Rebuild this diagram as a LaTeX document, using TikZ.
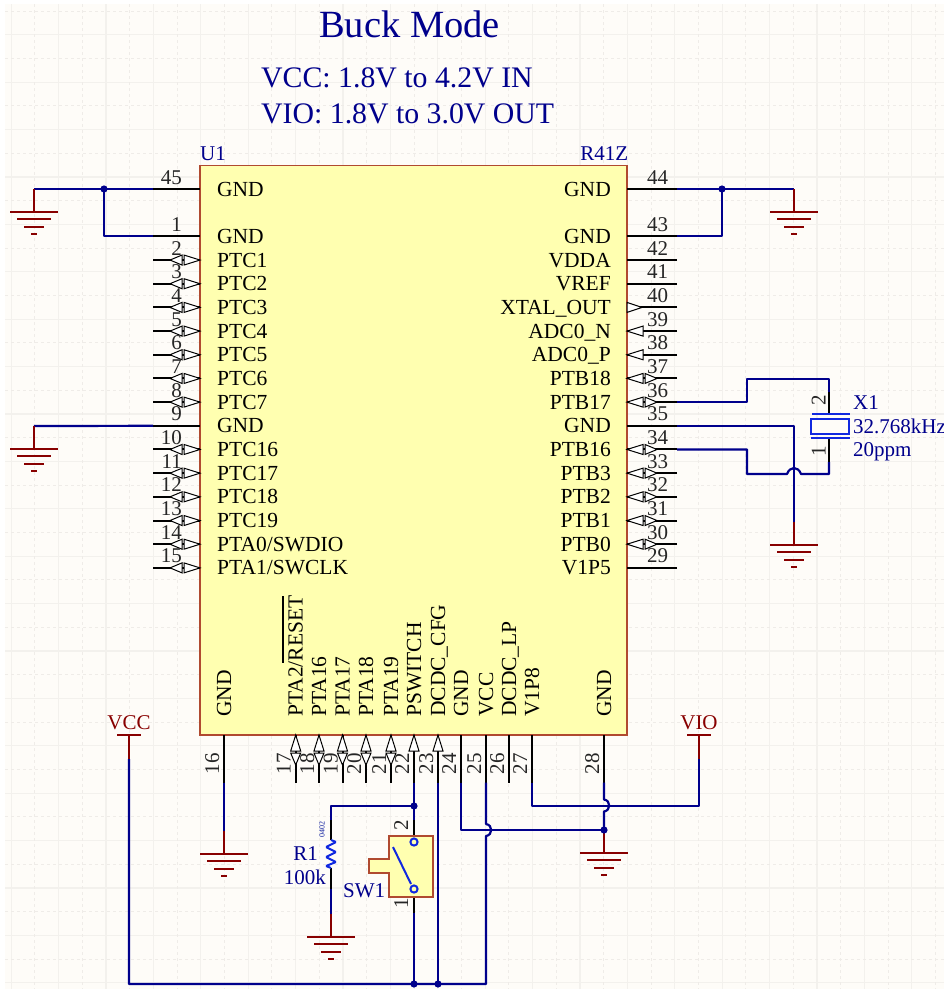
\documentclass[tikz,border=0pt]{standalone}
\usepackage{fontspec}
\setmainfont{Liberation Serif}
\definecolor{sheet}{HTML}{FEFCF8}
\definecolor{gridmajor}{HTML}{F3F1ED}
\definecolor{gridminor}{HTML}{EFECE8}
\definecolor{wireblue}{HTML}{00008C}
\definecolor{partblue}{HTML}{1028E0}
\definecolor{netred}{HTML}{880000}
\definecolor{bodyfill}{HTML}{FFFFB0}
\definecolor{bodyline}{HTML}{B04A30}
\tikzset{
    x=1pt, y=-1pt,
    wire/.style={draw=wireblue, line width=2.2pt, line join=round},
    pinline/.style={draw=black, line width=2pt},
    marker/.style={draw=black, fill=white, line width=1pt},
    partline/.style={draw=partblue, line width=2pt},
    powerline/.style={draw=netred, line width=2.2pt},
    bodybox/.style={draw=bodyline, fill=bodyfill, line width=1.2pt},
    pinname/.style={inner sep=0pt, font=\fontsize{21.5}{24}\selectfont, text=black},
    pinnum/.style={inner sep=0pt, font=\fontsize{21}{24}\selectfont, text=black!85},
    partname/.style={inner sep=0pt, font=\fontsize{21}{24}\selectfont, text=wireblue},
    netname/.style={inner sep=0pt, font=\fontsize{21}{24}\selectfont, text=netred},
    pics/nomark/.style={code={}},
    pics/inmark/.style={code={\draw[marker] (0,0) -- (-16,-5) -- (-16,5) -- cycle;}},
    pics/outmark/.style={code={\draw[marker] (-15,0) -- (0,-5) -- (0,5) -- cycle;}},
    pics/iomark/.style={code={
        \draw[marker] (0,0) -- (-16,-5) -- (-16,5) -- cycle;
        \draw[marker] (-18,-5) -- (-18,5) -- (-30,0) -- cycle;}},
    pics/gnd/.style={code={
        \draw[powerline] (0,0) -- (0,23);
        \draw[powerline] (-24,23) -- (24,23);
        \draw[powerline] (-17,30) -- (17,30);
        \draw[powerline] (-10,38) -- (10,38);
        \draw[powerline] (-3,45) -- (3,45);}},
    pics/powerport/.style={code={
        \draw[powerline] (0,0) -- (0,-24);
        \draw[powerline] (-12,-24) -- (12,-24);}}
}
\begin{document}
\begin{tikzpicture}
    \useasboundingbox (0,0) rectangle (944,989);

    % Sheet and grid
    \fill[sheet] (5,4) rectangle (944,989);
    \foreach \x in {11.1,58.5,...,940} \draw[gridmajor, line width=1.2pt] (\x,4) -- (\x,989);
    \foreach \y in {34.7,82.1,...,985} \draw[gridmajor, line width=1.2pt] (5,\y) -- (944,\y);
    \foreach \x in {34.8,82.2,...,940} \draw[gridminor, dashed, line width=0.8pt] (\x,4) -- (\x,989);
    \foreach \y in {11,58.4,...,985} \draw[gridminor, dashed, line width=0.8pt] (5,\y) -- (944,\y);

    % Titles
    \node[inner sep=0pt, anchor=base west, font=\fontsize{38.5}{42}\selectfont, text=wireblue] (title) at (319,37) {Buck Mode};
    \node[inner sep=0pt, anchor=base west, font=\fontsize{29.8}{34}\selectfont, text=wireblue] (vccline) at (261,87.5) {VCC: 1.8V to 4.2V IN};
    \node[inner sep=0pt, anchor=base west, font=\fontsize{29.8}{34}\selectfont, text=wireblue] (violine) at (261,123) {VIO: 1.8V to 3.0V OUT};

    % Chip body
    \node[partname, anchor=base west] (u1) at (200,160) {U1};
    \node[partname, anchor=base east] (r41z) at (628.5,160) {R41Z};
    \path[bodybox] (200,165.5) rectangle (627,735);

    % Left pins
    \foreach \num/\name/\row/\kind in {45/GND/0/nomark, 1/GND/2/nomark, 2/PTC1/3/iomark, 3/PTC2/4/iomark,
        4/PTC3/5/iomark, 5/PTC4/6/iomark, 6/PTC5/7/iomark, 7/PTC6/8/iomark, 8/PTC7/9/iomark, 9/GND/10/nomark,
        10/PTC16/11/iomark, 11/PTC17/12/iomark, 12/PTC18/13/iomark, 13/PTC19/14/iomark,
        14/{PTA0/SWDIO}/15/iomark, 15/{PTA1/SWCLK}/16/iomark} {
        \pgfmathsetmacro{\ypos}{189+23.68*\row}
        \coordinate (p\num) at (153,\ypos);
        \draw[pinline] (p\num) -- (200,\ypos);
        \pic at (200,\ypos) {\kind};
        \node[pinnum, anchor=base east] (n\num) at (182,\ypos-5) {\num};
        \node[pinname, anchor=base west] (t\num) at (217,\ypos+7) {\name};
    }

    % Right pins
    \foreach \num/\name/\row/\kind in {44/GND/0/nomark, 43/GND/2/nomark, 42/VDDA/3/nomark, 41/VREF/4/nomark,
        40/XTAL\_OUT/5/outmark, 39/ADC0\_N/6/inmark, 38/ADC0\_P/7/inmark, 37/PTB18/8/iomark, 36/PTB17/9/iomark,
        35/GND/10/nomark, 34/PTB16/11/iomark, 33/PTB3/12/iomark, 32/PTB2/13/iomark, 31/PTB1/14/iomark,
        30/PTB0/15/iomark, 29/V1P5/16/nomark} {
        \pgfmathsetmacro{\ypos}{189+23.68*\row}
        \coordinate (p\num) at (677,\ypos);
        \draw[pinline] (p\num) -- (627,\ypos);
        \pic[rotate=180] at (627,\ypos) {\kind};
        \node[pinnum, anchor=base west] (n\num) at (647,\ypos-5) {\num};
        \node[pinname, anchor=base east] (t\num) at (611,\ypos+7) {\name};
    }

    % Bottom pins
    \foreach \num/\name/\xpos/\kind in {16/GND/224/nomark, 17/{PTA2/RESET}/295.7/iomark, 18/PTA16/319/iomark,
        19/PTA17/342.5/iomark, 20/PTA18/366/iomark, 21/PTA19/391/iomark, 22/PSWITCH/414/inmark,
        23/DCDC\_CFG/438/inmark, 24/GND/461/nomark, 25/VCC/486/nomark, 26/DCDC\_LP/509/nomark,
        27/V1P8/532/nomark, 28/GND/604/nomark} {
        \coordinate (p\num) at (\xpos,782.5);
        \draw[pinline] (p\num) -- (\xpos,735);
        \pic[rotate=90] at (\xpos,735) {\kind};
        \node[pinnum, rotate=90, anchor=base east] (n\num) at (\xpos-5,753) {\num};
        \node[pinname, rotate=90, anchor=base west] (t\num) at (\xpos+7,717) {\name};
    }
    % Reset bar
    \draw[black, line width=2pt] (282.7,596) -- (282.7,663);

    % Net points
    \coordinate (g1) at (34,189);
    \coordinate (g2) at (34,426);
    \coordinate (g3) at (794,189);
    \coordinate (g4) at (794,522);
    \coordinate (g5) at (224,831);
    \coordinate (g6) at (331,914);
    \coordinate (g7) at (604,830);
    \coordinate (j1) at (104,189);
    \coordinate (j2) at (722,189);
    \coordinate (j3) at (414,806);
    \coordinate (j4) at (414,984);
    \coordinate (j5) at (438,984);
    \coordinate (a1) at (747,379);
    \coordinate (a2) at (747,474);
    \coordinate (a3) at (699,806);
    \coordinate (b1) at (486,984);
    \coordinate (x1t) at (829,392);
    \coordinate (x1b) at (829,462);
    \coordinate (r1t) at (331,820);
    \coordinate (r1b) at (331,889);
    \coordinate (sw2) at (414,820);
    \coordinate (sw1) at (414,913);
    \coordinate (vcc) at (129,759);
    \coordinate (vio) at (699,759);

    % Wires
    \draw[wire] (p45) -- (g1);
    \draw[wire] (j1) |- (p1);
    \draw[wire] (p9) -- (g2);
    \draw[wire] (p44) -- (g3);
    \draw[wire] (j2) |- (p43);
    \draw[wire] (p35) -| (g4);
    \draw[wire] (p36) -| (a1) -| (x1t);
    \draw[wire] (p34) -| (a2) -- ++(40,0) .. controls +(3,-8) and +(-3,-8) .. ++(14,0) -| (x1b);
    \draw[wire] (p16) -- (g5);
    \draw[wire] (p22) -- (j3) -| (r1t);
    \draw[wire] (j3) -- (sw2);
    \draw[wire] (r1b) -- (g6);
    \draw[wire] (sw1) -- (j4);
    \draw[wire] (p23) -- (j5);
    \draw[wire] (vcc) |- (b1) -- ++(0,-148) .. controls +(7,-1) and +(7,1) .. ++(0,-12) -- (p25);
    \draw[wire] (p24) |- (g7);
    \draw[wire] (p28) -- ++(0,17) .. controls +(7,1) and +(7,-1) .. ++(0,12) -- (g7);
    \draw[wire] (p27) |- (a3) -- (vio);

    % Ground and power
    \pic at (g1) {gnd};
    \pic at (g2) {gnd};
    \pic at (g3) {gnd};
    \pic at (g4) {gnd};
    \pic at (g5) {gnd};
    \pic at (g6) {gnd};
    \pic at (g7) {gnd};
    \pic at (vcc) {powerport};
    \pic at (vio) {powerport};
    \node[netname, anchor=base] (vcclabel) at (129,729) {VCC};
    \node[netname, anchor=base] (violabel) at (699,729) {VIO};

    % Crystal
    \draw[pinline] (x1t) -- ++(0,21);
    \draw[pinline] (x1b) -- ++(0,-23);
    \draw[partline] (812,414) -- (850,414);
    \draw[partline] (811,438) -- (850,438);
    \draw[partline, fill=sheet] (811,419) rectangle (849,434);
    \node[pinnum, rotate=90, anchor=base] (x1two) at (825.5,400) {2};
    \node[pinnum, rotate=90, anchor=base] (x1one) at (825.5,451) {1};
    \node[partname, anchor=base west] (x1name) at (853,409) {X1};
    \node[partname, anchor=base west] (x1freq) at (853,433) {32.768kHz};
    \node[partname, anchor=base west] (x1ppm) at (853,456) {20ppm};

    % Resistor
    \draw[pinline] (r1t) -- (331,840);
    \draw[pinline] (r1b) -- (331,868);
    \draw[partline, rounded corners=1pt] (331,840) -- (336,842) -- (326,847) -- (336,852) -- (326,857) -- (336,862) -- (326,866) -- (331,868);
    \node[inner sep=0pt, rotate=90, font=\fontsize{8}{9}\selectfont, text=partblue!70!black] (r1size) at (322,829) {0402};
    \node[partname, anchor=base east] (r1name) at (318,860) {R1};
    \node[partname, anchor=base east] (r1value) at (326,884) {100k};

    % Switch
    \draw[pinline] (sw2) -- (414,838);
    \draw[pinline] (sw1) -- (414,893);
    \path[bodybox] (389,836) -- (433,836) -- (433,897) -- (389,897) -- (389,873) -- (369,873) -- (369,859) -- (389,859) -- cycle;
    \draw[partline] (393,847) -- (411,884);
    \draw[partline, fill=bodyfill] (414,842) circle (3.6);
    \draw[partline, fill=bodyfill] (414,889) circle (3.6);
    \node[pinnum, rotate=90, anchor=base] (sw2num) at (408,825) {2};
    \node[pinnum, rotate=90, anchor=base] (sw1num) at (408,903) {1};
    \node[partname, anchor=base west] (swname) at (343,897) {SW1};

    % Junctions
    \fill[wireblue] (j1) circle (3.6);
    \fill[wireblue] (j2) circle (3.6);
    \fill[wireblue] (j3) circle (3.6);
    \fill[wireblue] (j4) circle (3.6);
    \fill[wireblue] (j5) circle (3.6);
    \fill[wireblue] (g7) circle (3.6);
\end{tikzpicture}
\end{document}
